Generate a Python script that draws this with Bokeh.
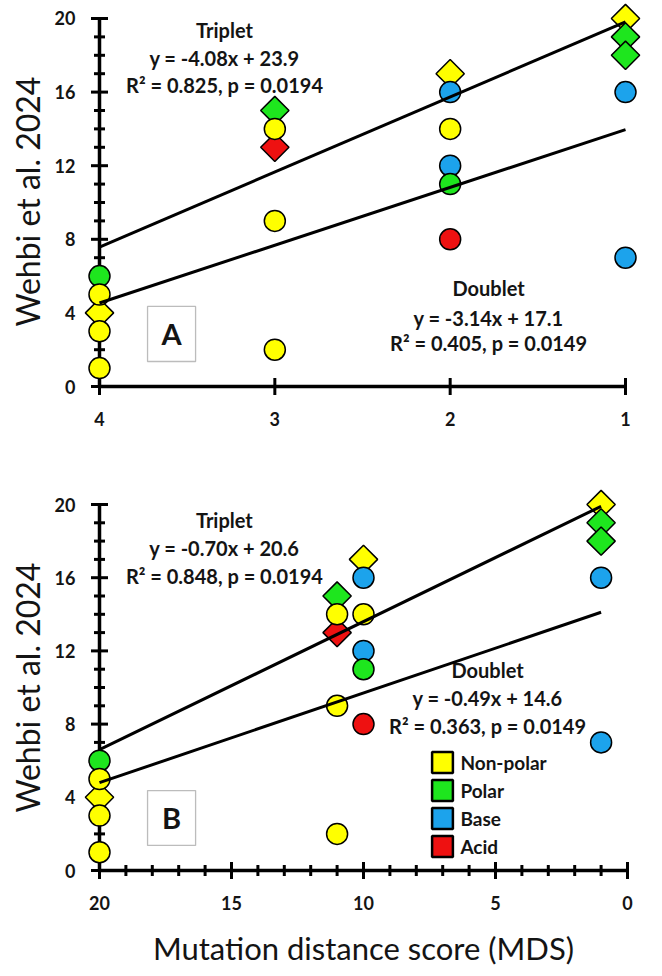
import numpy as np
from bokeh.plotting import figure
from bokeh.models import (Range1d, FixedTicker, Label, BoxAnnotation, Legend,
                          LegendItem, ColumnDataSource)
from bokeh.layouts import column
from bokeh.embed import file_html
from bokeh.resources import INLINE

# ---------------- data ----------------
classes = ["Non-polar", "Polar", "Base", "Acid"]
class_colors = ["#FFFF00", "#1EE61E", "#1CA3EC", "#EE1111"]

# triplet mutations (diamonds)
trip_rank = [4, 3, 3, 2, 1, 1, 1]            # panel A x
trip_mds = [20, 11, 11, 10, 1, 1, 1]         # panel B x
trip_score = [4, 15, 13, 17, 20, 19, 18]
trip_class = ["Non-polar", "Polar", "Acid", "Non-polar", "Non-polar", "Polar", "Polar"]

# doublet mutations (circles)
doub_rank = [4, 4, 4, 4, 3, 3, 3, 2, 2, 2, 2, 2, 1, 1]
doub_mds = [20, 20, 20, 20, 11, 11, 11, 10, 10, 10, 10, 10, 1, 1]
doub_score = [6, 5, 3, 1, 14, 9, 2, 16, 14, 12, 11, 8, 16, 7]
doub_class = ["Polar", "Non-polar", "Non-polar", "Non-polar", "Non-polar", "Non-polar",
              "Non-polar", "Base", "Non-polar", "Base", "Polar", "Acid", "Base", "Base"]

# regression results [Triplet, Doublet]
fitA_slope = [-4.08, -3.14]
fitA_icpt = [23.9, 17.1]
fitA_r2 = ["0.825", "0.405"]
fitB_slope = [-0.70, -0.49]
fitB_icpt = [20.6, 14.6]
fitB_r2 = ["0.848", "0.363"]
fit_p = ["0.0194", "0.0149"]

y_ticks = [0, 4, 8, 12, 16, 20]
y_minor = [v for v in range(0, 21) if v % 4]
xA_ticks = [4, 3, 2, 1]
xA_minor = []
xB_ticks = [20, 15, 10, 5, 0]
xB_minor = [v for v in range(0, 21) if v % 5]

y_title = "Wehbi et al. 2024"
x_title = "Mutation distance score (MDS)"

cmap = dict(zip(classes, class_colors))
FONT = "Lato"
TXT = "#141414"
W = 662


def make_panel(xt, xd, slopes, icpts, r2s, xr, yr, height, xticks, xminor, xbounds,
               letter, tpos, dpos, boxlrtb, ytitle_pos, xtitle_pos=None,
               legend_loc=None):
    p = figure(width=W, height=height, x_range=Range1d(*xr), y_range=Range1d(*yr),
               output_backend="svg", toolbar_location=None,
               min_border_left=0, min_border_right=0, min_border_top=0,
               min_border_bottom=0)
    p.outline_line_color = None
    p.grid.visible = False
    p.background_fill_color = "white"

    x_org = xbounds[1]

    # axes placed at the data origin (inside the frame)
    xa = p.xaxis[0]
    ya = p.yaxis[0]
    xa.fixed_location = 0
    ya.fixed_location = x_org
    xa.bounds = tuple(sorted(xbounds))
    ya.bounds = (0, 20)
    xa.ticker = FixedTicker(ticks=xticks, minor_ticks=[])
    ya.ticker = FixedTicker(ticks=y_ticks, minor_ticks=[])
    for ax in (xa, ya):
        ax.axis_line_width = 3.5
        ax.axis_line_color = "black"
        ax.major_tick_line_color = None
        ax.minor_tick_line_color = None
        ax.major_tick_in = 0
        ax.major_tick_out = 8
        ax.minor_tick_in = 0
        ax.minor_tick_out = 0
        ax.major_label_text_font = FONT
        ax.major_label_text_font_style = "bold"
        ax.major_label_text_font_size = "18px"
        ax.major_label_text_color = TXT
    ya.major_label_standoff = 16
    xa.major_label_standoff = 17

    # tick marks crossing the axes, drawn as small filled bars (sizes in pixels)
    tick_sets = [
        (dict(x=[x_org] * len(y_ticks), y=y_ticks), 17, 3),
        (dict(x=[x_org] * len(y_minor), y=y_minor), 11, 3),
        (dict(x=xticks, y=[0] * len(xticks)), 3, 17),
        (dict(x=xminor, y=[0] * len(xminor)), 3, 11),
    ]
    for d, w_px, h_px in tick_sets:
        if len(d["x"]):
            rt = p.rect("x", "y", source=ColumnDataSource(d), width=w_px, height=h_px,
                        width_units="screen", height_units="screen",
                        fill_color="black", line_color=None)
            rt.level = "overlay"

    # markers (drawn above the axes)
    src_t = ColumnDataSource(dict(x=xt, y=trip_score, c=[cmap[k] for k in trip_class]))
    src_d = ColumnDataSource(dict(x=xd, y=doub_score, c=[cmap[k] for k in doub_class]))
    r1 = p.scatter("x", "y", source=src_t, marker="square", angle=np.pi / 4, size=20,
                   fill_color="c", line_color="black", line_width=1.5)
    r2 = p.scatter("x", "y", source=src_d, marker="circle", size=21,
                   fill_color="c", line_color="black", line_width=1.5)
    r1.level = "overlay"
    r2.level = "overlay"

    # regression lines
    for xs, s, b in ((xt, slopes[0], icpts[0]), (xd, slopes[1], icpts[1])):
        x0, x1 = max(xs), min(xs)
        rl = p.line([x0, x1], [s * x0 + b, s * x1 + b], line_color="black", line_width=3)
        rl.level = "overlay"

    # equation texts
    names = ["Triplet", "Doublet"]
    for i, (px, ys) in enumerate((tpos, dpos)):
        lines = [names[i], f"y = {slopes[i]:.2f}x + {icpts[i]:.1f}",
                 f"R\u00b2 = {r2s[i]}, p = {fit_p[i]}"]
        for t, yy in zip(lines, ys):
            p.add_layout(Label(x=px, y=yy, text=t, text_align="center",
                               text_baseline="middle", text_font=FONT,
                               text_font_style="bold", text_font_size="20px",
                               text_color=TXT))

    # panel letter box
    l, r, t_, b_ = boxlrtb
    p.add_layout(BoxAnnotation(left=l, right=r, top=t_, bottom=b_, fill_alpha=0,
                               line_color="#222222", line_width=1.3))
    p.add_layout(Label(x=(l + r) / 2, y=(t_ + b_) / 2, text=letter, text_align="center",
                       text_baseline="middle", text_font=FONT, text_font_style="bold",
                       text_font_size="29px", text_color=TXT))

    # axis titles
    p.add_layout(Label(x=ytitle_pos[0], y=ytitle_pos[1], x_units="screen",
                       y_units="screen", text=y_title, angle=np.pi / 2,
                       text_align="center", text_baseline="middle", text_font=FONT,
                       text_font_size="32px", text_color=TXT))
    if xtitle_pos is not None:
        p.add_layout(Label(x=xtitle_pos[0], y=xtitle_pos[1], x_units="screen",
                           y_units="screen", text=x_title, text_align="center",
                           text_baseline="middle", text_font=FONT,
                           text_font_size="31px", text_color=TXT))

    if legend_loc is not None:
        items = []
        for name, col in zip(classes, class_colors):
            rr = p.quad(left=[np.nan], right=[np.nan], top=[np.nan], bottom=[np.nan],
                        fill_color=col, line_color="black", line_width=2.5)
            items.append(LegendItem(label=name, renderers=[rr]))
        leg = Legend(items=items, location=legend_loc, padding=0, margin=0, spacing=2,
                     glyph_width=26, glyph_height=26, label_standoff=5,
                     label_text_font=FONT, label_text_font_style="bold",
                     label_text_font_size="19px", label_text_color=TXT,
                     border_line_color=None, background_fill_alpha=0)
        p.add_layout(leg, "center")
    return p


pA = make_panel(trip_rank, doub_rank, fitA_slope, fitA_icpt, fitA_r2,
                xr=(4.5646, 0.7890), yr=(-4.565, 20.978), height=470,
                xticks=xA_ticks, xminor=xA_minor, xbounds=(1, 4), letter="A",
                tpos=(3.287, (19.35, 17.83, 16.36)), dpos=(1.781, (5.33, 3.75, 2.34)),
                boxlrtb=(3.726, 3.452, 4.35, 1.36), ytitle_pos=(27, 269))

pB = make_panel(trip_mds, doub_mds, fitB_slope, fitB_icpt, fitB_r2,
                xr=(23.75, -1.326), yr=(-5.792, 21.858), height=506,
                xticks=xB_ticks, xminor=xB_minor, xbounds=(0, 20), letter="B",
                tpos=(15.27, (19.13, 17.60, 16.12)), dpos=(5.30, (10.93, 9.40, 7.92)),
                boxlrtb=(18.18, 16.36, 4.37, 1.37), ytitle_pos=(27, 289),
                xtitle_pos=(363, 29), legend_loc=(429.4, 116.6))

layout = column(pA, pB, spacing=0)
open("out.html", "w").write(file_html(layout, INLINE))
